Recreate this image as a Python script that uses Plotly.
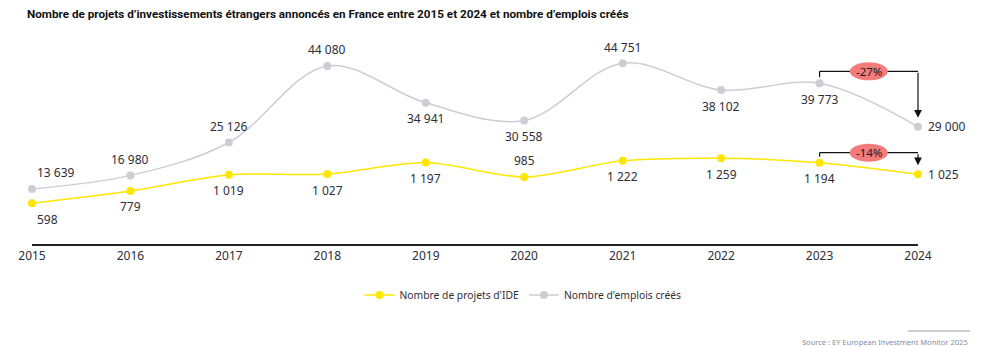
import plotly.graph_objects as go

years = [2015, 2016, 2017, 2018, 2019, 2020, 2021, 2022, 2023, 2024]
projets = [598, 779, 1019, 1027, 1197, 985, 1222, 1259, 1194, 1025]
emplois = [13639, 16980, 25126, 44080, 34941, 30558, 44751, 38102, 39773, 29000]
pos_projets = ["below-right", "below", "below", "below", "below",
               "above", "below", "below", "below", "right"]
pos_emplois = ["above-right", "above", "above", "above", "below",
               "below", "above", "below", "below", "right"]
title = "Nombre de projets d’investissements étrangers annoncés en France entre 2015 et 2024 et nombre d’emplois créés"
source = "Source : EY European Investment Monitor 2025"

YELLOW = "#FFE600"
GREY = "#CDCDD6"
TXT = "#2E2E38"
FONT = "Noto Sans"

W, H = 989, 347
ML, MR, MT, MB = 32, 71, 44, 103
PH = H - MT - MB
Y2MAX = 49500
Y1MAX = 2938

def fmt(v):
    return f"{v:,}".replace(",", " ")

fig = go.Figure()
fig.add_trace(go.Scatter(
    x=years, y=projets, name="Nombre de projets d'IDE", mode="lines+markers",
    line=dict(color=YELLOW, width=1.5, shape="spline", smoothing=0.8),
    marker=dict(color=YELLOW, size=8), cliponaxis=False, yaxis="y"))
fig.add_trace(go.Scatter(
    x=years, y=emplois, name="Nombre d'emplois créés", mode="lines+markers",
    line=dict(color=GREY, width=1.5, shape="spline", smoothing=1.0),
    marker=dict(color=GREY, size=8), cliponaxis=False, yaxis="y2"))

shapes = []
annotations = []

def labels(values, positions, yref):
    for x, v, p in zip(years, values, positions):
        a = dict(x=x, y=v, xref="x", yref=yref, text=fmt(v), showarrow=False,
                 font=dict(family=FONT, size=12, color=TXT))
        if p == "right":
            a.update(xanchor="left", yanchor="middle", xshift=8)
        else:
            a.update(yshift=16 if p.startswith("above") else -16, yanchor="middle")
            if p.endswith("right"):
                a.update(xanchor="left", xshift=3)
            else:
                a.update(xanchor="center")
        annotations.append(a)

labels(projets, pos_projets, "y")
labels(emplois, pos_emplois, "y2")

def bracket(values, yref, ymax, lift):
    a, b = values[-2], values[-1]
    px = PH / ymax
    top_pix = lift
    shapes.append(dict(type="line", xref="x", yref=yref, ysizemode="pixel", yanchor=a,
                       x0=years[-2], x1=years[-2], y0=6, y1=top_pix, line=dict(color="#111", width=1.2)))
    shapes.append(dict(type="line", xref="x", yref=yref, ysizemode="pixel", yanchor=a,
                       x0=years[-2], x1=years[-1], y0=top_pix, y1=top_pix, line=dict(color="#111", width=1.2)))
    dist = (a - b) * px + top_pix
    annotations.append(dict(x=years[-1], y=b, xref="x", yref=yref, showarrow=True,
                            ax=0, ay=-dist, arrowhead=2, arrowsize=1.3, arrowwidth=1.2,
                            arrowcolor="#111", standoff=9, text=""))
    xm = (years[-2] + years[-1]) / 2
    shapes.append(dict(type="circle", xref="x", yref=yref, xsizemode="pixel", ysizemode="pixel",
                       xanchor=xm, yanchor=a, x0=-19, x1=19, y0=top_pix - 9, y1=top_pix + 9,
                       fillcolor="#F27C7C", line=dict(width=0), layer="above"))
    pct = round((b - a) / a * 100)
    annotations.append(dict(x=xm, y=a, xref="x", yref=yref, yshift=top_pix, showarrow=False,
                            text=f"{pct}%", font=dict(family=FONT, size=11.5, color="#1a1a1a")))

bracket(emplois, "y2", Y2MAX, 12)
bracket(projets, "y", Y1MAX, 10)

PW = W - ML - MR
annotations.append(dict(x=(25 - ML) / PW, y=1 + 30 / PH, xref="paper", yref="paper",
                        xanchor="left", yanchor="middle", showarrow=False, text=f"<b>{title}</b>",
                        font=dict(family="Liberation Sans Narrow, Roboto", size=11.7, color="#111")))
annotations.append(dict(x=(970 - ML) / PW, y=-(342 - (H - MB)) / PH, xref="paper", yref="paper",
                        xanchor="right", yanchor="middle", showarrow=False, text=source,
                        font=dict(family=FONT, size=7.5, color="#8A8AA0")))
shapes.append(dict(type="line", xref="paper", yref="paper",
                   x0=(908 - ML) / PW, x1=(970 - ML) / PW,
                   y0=-(331 - (H - MB)) / PH, y1=-(331 - (H - MB)) / PH,
                   line=dict(color="#9A9AAA", width=1)))

fig.update_layout(
    width=W, height=H, margin=dict(l=ML, r=MR, t=MT, b=MB),
    paper_bgcolor="white", plot_bgcolor="white",
    font=dict(family=FONT, color=TXT),
    xaxis=dict(range=[2015, 2024], tickvals=years, ticktext=[str(y) for y in years],
               showgrid=False, zeroline=False, showline=True, linecolor="#222", linewidth=1.5,
               ticks="", tickfont=dict(family=FONT, size=12, color=TXT)),
    yaxis=dict(range=[0, Y1MAX], visible=False, showgrid=False),
    yaxis2=dict(range=[0, Y2MAX], visible=False, showgrid=False, overlaying="y"),
    showlegend=True,
    legend=dict(orientation="h", x=(523 - ML) / PW, xanchor="center", y=-(295 - (H - MB)) / PH, yanchor="middle",
                font=dict(family=FONT, size=10.3, color=TXT), itemwidth=30),
    shapes=shapes, annotations=annotations,
)

fig.write_html("out.html")
